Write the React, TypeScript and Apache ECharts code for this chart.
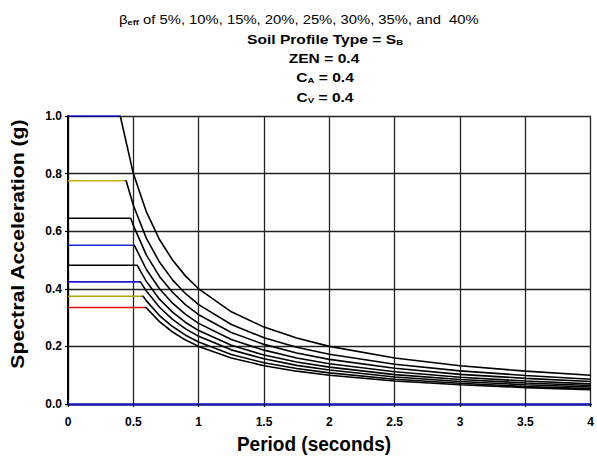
import React, { useEffect, useRef } from "react";
import * as echarts from "echarts";

// Spectral acceleration curves [period (s), Sa (g)]
const beta5 = [[0, 1.0], [0.4, 1.0], [0.5, 0.8], [0.6, 0.667], [0.7, 0.571], [0.8, 0.5], [0.9, 0.444], [1.0, 0.4], [1.25, 0.32], [1.5, 0.267], [1.75, 0.229], [2.0, 0.2], [2.5, 0.16], [3.0, 0.133], [3.5, 0.114], [4.0, 0.1]];
const beta10 = [[0, 0.775], [0.445, 0.775], [0.5, 0.69], [0.6, 0.575], [0.7, 0.493], [0.8, 0.431], [0.9, 0.383], [1.0, 0.345], [1.25, 0.276], [1.5, 0.23], [1.75, 0.197], [2.0, 0.173], [2.5, 0.138], [3.0, 0.115], [3.5, 0.099], [4.0, 0.086]];
const beta15 = [[0, 0.645], [0.48, 0.645], [0.5, 0.62], [0.6, 0.517], [0.7, 0.443], [0.8, 0.388], [0.9, 0.344], [1.0, 0.31], [1.25, 0.248], [1.5, 0.207], [1.75, 0.177], [2.0, 0.155], [2.5, 0.124], [3.0, 0.103], [3.5, 0.089], [4.0, 0.078]];
const beta20 = [[0, 0.551], [0.508, 0.551], [0.6, 0.467], [0.7, 0.4], [0.8, 0.35], [0.9, 0.311], [1.0, 0.28], [1.25, 0.224], [1.5, 0.187], [1.75, 0.16], [2.0, 0.14], [2.5, 0.112], [3.0, 0.093], [3.5, 0.08], [4.0, 0.07]];
const beta25 = [[0, 0.482], [0.529, 0.482], [0.6, 0.425], [0.7, 0.364], [0.8, 0.319], [0.9, 0.283], [1.0, 0.255], [1.25, 0.204], [1.5, 0.17], [1.75, 0.146], [2.0, 0.128], [2.5, 0.102], [3.0, 0.085], [3.5, 0.073], [4.0, 0.064]];
const beta30 = [[0, 0.424], [0.554, 0.424], [0.6, 0.392], [0.7, 0.336], [0.8, 0.294], [0.9, 0.261], [1.0, 0.235], [1.25, 0.188], [1.5, 0.157], [1.75, 0.134], [2.0, 0.118], [2.5, 0.094], [3.0, 0.078], [3.5, 0.067], [4.0, 0.059]];
const beta35 = [[0, 0.374], [0.575, 0.374], [0.6, 0.358], [0.7, 0.307], [0.8, 0.269], [0.9, 0.239], [1.0, 0.215], [1.25, 0.172], [1.5, 0.143], [1.75, 0.123], [2.0, 0.108], [2.5, 0.086], [3.0, 0.072], [3.5, 0.061], [4.0, 0.054]];
const beta40 = [[0, 0.335], [0.597, 0.335], [0.7, 0.286], [0.8, 0.25], [0.9, 0.222], [1.0, 0.2], [1.25, 0.16], [1.5, 0.133], [1.75, 0.114], [2.0, 0.1], [2.5, 0.08], [3.0, 0.067], [3.5, 0.057], [4.0, 0.05]];

const curves = [beta5, beta10, beta15, beta20, beta25, beta30, beta35, beta40];
const curveNames = ["5%", "10%", "15%", "20%", "25%", "30%", "35%", "40%"];
const plateauColors = ["#0000cc", "#c8b000", "#000000", "#1a2ad8", "#000000", "#1a1acc", "#a8a800", "#e01010"];

const xTicks = [0, 0.5, 1, 1.5, 2, 2.5, 3, 3.5, 4];
const yTicks = [0, 0.2, 0.4, 0.6, 0.8, 1.0];

const FONT = "'Liberation Sans', Arial, Helvetica, sans-serif";

export default function App() {
  const ref = useRef<HTMLDivElement>(null);
  useEffect(() => {
    if (!ref.current) return;
    document.body.style.margin = "0";
    const chart = echarts.init(ref.current, undefined, { renderer: "svg" });
    const series = curves.map((data, i) => {
      const endT = data[1][0];
      const frac = endT / 4;
      const c = plateauColors[i];
      return {
        name: curveNames[i],
        type: "line",
        data,
        showSymbol: false,
        symbol: "none",
        lineStyle: {
          width: 1.6,
          color: new echarts.graphic.LinearGradient(0, 0, 1, 0, [
            { offset: 0, color: c },
            { offset: Math.max(0, frac - 0.004), color: c },
            { offset: frac, color: "#000000" },
            { offset: 1, color: "#000000" },
          ]),
        },
        z: 3,
      };
    });
    const sub = { fontSize: 8, fontWeight: "bold", fontFamily: FONT, color: "#000", padding: [6, 0, 0, 0] };
    const main = { fontSize: 13, fontWeight: "bold", fontFamily: FONT, color: "#000" };
    const reg = { ...main, fontWeight: "normal" };
    const titleText = (x: number, y: number, text: string, rich: any, sx = 1.2) => ({
      type: "text", x, y, scaleX: sx,
      style: { text, align: "center", verticalAlign: "middle", rich },
    });
    chart.setOption({
      animation: false,
      backgroundColor: "#ffffff",
      grid: { left: 68, width: 527, top: 116, height: 288, containLabel: false },
      xAxis: {
        type: "value",
        min: xTicks[0],
        max: xTicks[xTicks.length - 1],
        interval: 0.5,
        axisLine: { show: true, onZero: false, lineStyle: { color: "#1c1cb8", width: 2.5 } },
        axisTick: { show: true, length: 3, lineStyle: { color: "#000", width: 1.2 } },
        axisLabel: { color: "#000", fontSize: 12, fontWeight: "bold", fontFamily: FONT, margin: 12 },
        splitLine: { show: true, lineStyle: { color: "#222", width: 1.3 } },
      },
      yAxis: {
        type: "value",
        min: yTicks[0],
        max: yTicks[yTicks.length - 1],
        interval: 0.2,
        axisLine: { show: true, lineStyle: { color: "#000", width: 2 } },
        axisTick: { show: true, length: 3, lineStyle: { color: "#000", width: 1.2 } },
        axisLabel: {
          color: "#000", fontSize: 12, fontWeight: "bold", fontFamily: FONT, margin: 6,
          formatter: (v: number) => v.toFixed(1),
        },
        splitLine: { show: true, lineStyle: { color: "#222", width: 1.3 } },
      },
      series,
      graphic: [
        titleText(299, 19, "{m|β}{s|eff}{m| of 5%, 10%, 15%, 20%, 25%, 30%, 35%, and  40%}", { m: reg, s: sub }, 1.14),
        titleText(325, 39, "{m|Soil Profile Type = S}{s|B}", { m: main, s: sub }),
        titleText(324, 58, "{m|ZEN = 0.4}", { m: main }),
        titleText(325, 77, "{m|C}{s|A}{m| = 0.4}", { m: main, s: sub }),
        titleText(325, 97, "{m|C}{s|V}{m| = 0.4}", { m: main, s: sub }),
        {
          type: "text", x: 314, y: 444, scaleY: 1.1,
          style: {
            text: "Period (seconds)", align: "center", verticalAlign: "middle",
            fontSize: 19, fontWeight: "bold", fontFamily: FONT, fill: "#000",
          },
        },
        {
          type: "text", x: 18, y: 244, rotation: Math.PI / 2, scaleX: 1.18,
          style: {
            text: "Spectral Acceleration (g)", align: "center", verticalAlign: "middle",
            fontSize: 18, fontWeight: "bold", fontFamily: FONT, fill: "#000",
          },
        },
      ],
    });
    return () => chart.dispose();
  }, []);
  return (
    <div
      ref={ref}
      style={{ position: "absolute", left: 0, top: 0, width: 597, height: 458 }}
    />
  );
}
